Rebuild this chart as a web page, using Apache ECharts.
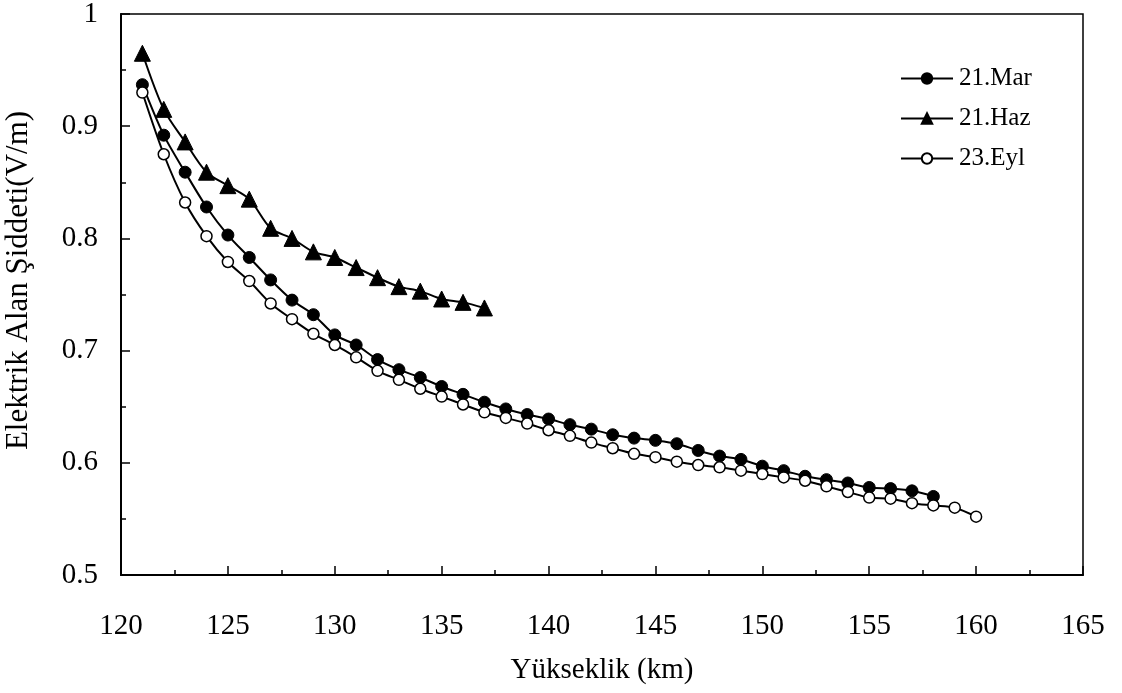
<!DOCTYPE html>
<html>
<head>
<meta charset="utf-8">
<script src="https://cdn.jsdelivr.net/npm/echarts@6/dist/echarts.min.js"></script>
<style>html,body{margin:0;padding:0;background:#fff}#c{width:1122px;height:693px}</style>
</head>
<body>
<div id="c"></div>
<script>
// Data
const marX = [121,122,123,124,125,126,127,128,129,130,131,132,133,134,135,136,137,138,139,140,141,142,143,144,145,146,147,148,149,150,151,152,153,154,155,156,157,158];
const marY = [0.937,0.892,0.859,0.828,0.803,0.783,0.763,0.745,0.732,0.714,0.705,0.692,0.683,0.676,0.668,0.661,0.654,0.648,0.643,0.639,0.634,0.630,0.625,0.622,0.620,0.617,0.611,0.606,0.603,0.597,0.593,0.588,0.585,0.582,0.578,0.577,0.575,0.570];
const hazX = [121,122,123,124,125,126,127,128,129,130,131,132,133,134,135,136,137];
const hazY = [0.965,0.915,0.886,0.859,0.847,0.835,0.809,0.800,0.788,0.783,0.774,0.765,0.757,0.753,0.746,0.743,0.738];
const eylX = [121,122,123,124,125,126,127,128,129,130,131,132,133,134,135,136,137,138,139,140,141,142,143,144,145,146,147,148,149,150,151,152,153,154,155,156,157,158,159,160];
const eylY = [0.930,0.875,0.832,0.802,0.779,0.762,0.742,0.728,0.715,0.705,0.694,0.682,0.674,0.666,0.659,0.652,0.645,0.640,0.635,0.629,0.624,0.618,0.613,0.608,0.605,0.601,0.598,0.596,0.593,0.590,0.587,0.584,0.579,0.574,0.569,0.568,0.564,0.562,0.560,0.552];
const seriesNames = ['21.Mar','21.Haz','23.Eyl'];
const xAxisName = 'Yükseklik (km)';
const yAxisName = 'Elektrik Alan Şiddeti(V/m)';

const zip = (xs, ys) => xs.map((x, i) => [x, ys[i]]);
const font = '"Liberation Serif", "Times New Roman", serif';

const chart = echarts.init(document.getElementById('c'), null, {renderer: 'canvas'});
const lineStyle = {color: '#000', width: 2};
chart.setOption({
  backgroundColor: '#fff',
  animation: false,
  grid: {left: 121, right: 39, top: 14, bottom: 118, show: true, borderColor: '#000', borderWidth: 1.5, outerBoundsMode: 'none'},
  legend: {
    orient: 'vertical', left: 895, top: 61,
    itemWidth: 52, itemHeight: 13, itemGap: 15,
    textStyle: {fontFamily: font, fontSize: 25, color: '#000', padding: [0,0,0,1]},
    data: seriesNames
  },
  xAxis: {
    type: 'value', min: 120, max: 165, interval: 5,
    name: xAxisName, nameLocation: 'middle', nameGap: 81,
    nameTextStyle: {fontFamily: font, fontSize: 29, color: '#000'},
    axisLine: {lineStyle: {color: '#000', width: 2}},
    axisTick: {inside: true, length: 9, lineStyle: {color: '#000', width: 1.5}},
    minorTick: {show: true, splitNumber: 2, length: 5, lineStyle: {color: '#000', width: 1.5}},
    axisLabel: {fontFamily: font, fontSize: 29, color: '#000', margin: 37},
    splitLine: {show: false}
  },
  yAxis: {
    type: 'value', min: 0.5, max: 1, interval: 0.1,
    name: yAxisName, nameLocation: 'middle', nameGap: 87,
    nameTextStyle: {fontFamily: font, fontSize: 31, color: '#000', padding: [0,0,0,28]},
    axisLine: {lineStyle: {color: '#000', width: 2}},
    axisTick: {inside: true, length: 9, lineStyle: {color: '#000', width: 1.5}},
    minorTick: {show: true, splitNumber: 2, length: 5, lineStyle: {color: '#000', width: 1.5}},
    axisLabel: {fontFamily: font, fontSize: 29, color: '#000', margin: 23},
    splitLine: {show: false}
  },
  series: [
    {name: seriesNames[0], type: 'line', data: zip(marX, marY), smooth: 0.3,
     symbol: 'circle', symbolSize: 12, lineStyle: lineStyle,
     itemStyle: {color: '#000', borderColor: '#000', borderWidth: 1}},
    {name: seriesNames[1], type: 'line', data: zip(hazX, hazY), smooth: 0.3,
     symbol: 'triangle', symbolSize: 16, lineStyle: lineStyle,
     itemStyle: {color: '#000', borderColor: '#000', borderWidth: 1}},
    {name: seriesNames[2], type: 'line', data: zip(eylX, eylY), smooth: 0.3,
     symbol: 'circle', symbolSize: 11, lineStyle: lineStyle,
     itemStyle: {color: '#fff', borderColor: '#000', borderWidth: 1.5}}
  ]
});
</script>
</body>
</html>
